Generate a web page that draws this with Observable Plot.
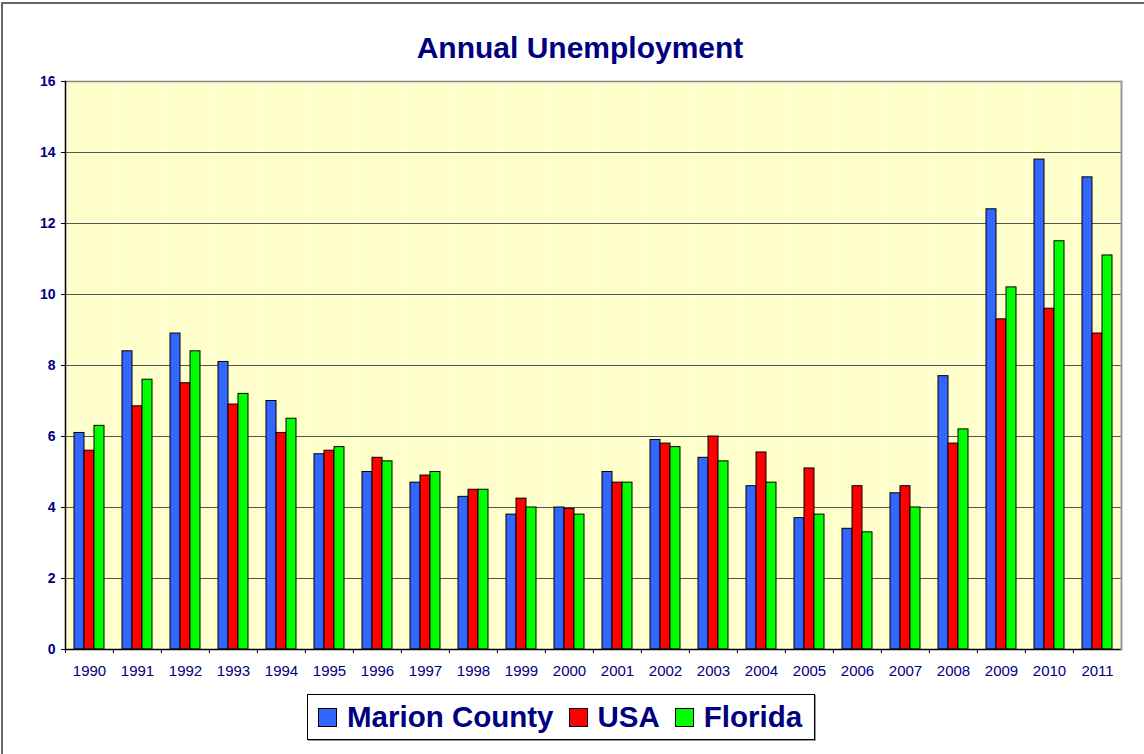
<!DOCTYPE html>
<html>
<head>
<meta charset="utf-8">
<script src="https://cdn.jsdelivr.net/npm/d3@7"></script>
<script src="https://cdn.jsdelivr.net/npm/@observablehq/plot@0.6"></script>
<style>
  html, body { margin: 0; padding: 0; background: #fff; }
  #wrap { position: relative; width: 1144px; height: 754px; overflow: hidden; font-family: "Liberation Sans", Arial, sans-serif; }
  #outer { position: absolute; left: 1px; top: 2px; width: 1200px; height: 800px; border-top: 2px solid #666; border-left: 2px solid #666; }
  #title { position: absolute; left: 0; top: 33px; width: 1160px; text-align: center; font-size: 30px; line-height: 1; font-weight: bold; color: #000080; }
  #chart { position: absolute; left: 0; top: 70px; }
  #legend { position: absolute; left: 307px; top: 694px; height: 44px; border: 1px solid #000; box-shadow: 1px 1px 0 #999; display: flex; align-items: center; padding-left: 10px; padding-right: 12px; box-sizing: content-box; }
  #legend .sw { width: 17px; height: 17px; border: 1px solid #000; margin-right: 10px; }
  #legend .lab { font-size: 29.5px; font-weight: bold; color: #000080; margin-right: 15px; line-height: 1; white-space: nowrap; }
  #legend .lab:last-child { margin-right: 0; }
</style>
</head>
<body>
<div id="wrap">
  <div id="outer"></div>
  <div id="title">Annual Unemployment</div>
  <div id="chart"></div>
  <div id="legend"></div>
</div>
<script>
const years = [1990,1991,1992,1993,1994,1995,1996,1997,1998,1999,2000,2001,2002,2003,2004,2005,2006,2007,2008,2009,2010,2011];
const marion  = [6.1, 8.4, 8.9, 8.1, 7.0, 5.5, 5.0, 4.7, 4.3, 3.8, 4.0, 5.0, 5.9, 5.4, 4.6, 3.7, 3.4, 4.4, 7.7, 12.4, 13.8, 13.3];
const usa     = [5.6, 6.85, 7.5, 6.9, 6.1, 5.6, 5.4, 4.9, 4.5, 4.25, 3.96, 4.7, 5.8, 6.0, 5.55, 5.1, 4.6, 4.6, 5.8, 9.3, 9.6, 8.9];
const florida = [6.3, 7.6, 8.4, 7.2, 6.5, 5.7, 5.3, 5.0, 4.5, 4.0, 3.8, 4.7, 5.7, 5.3, 4.7, 3.8, 3.3, 4.0, 6.2, 10.2, 11.5, 11.1];
const seriesNames = ["Marion County", "USA", "Florida"];
const seriesColors = ["#3366FF", "#FF0000", "#00FF00"];
const yTicks = [0, 2, 4, 6, 8, 10, 12, 14, 16];

const seriesValues = [marion, usa, florida];
const data = years.flatMap((yr, i) => seriesNames.map((s, k) => ({year: yr, series: s, value: seriesValues[k][i]})));

const W = 1144, H = 620, ML = 63, MR = 21, MT = 11, MB = 41;
const halfBand = (W - ML - MR) / years.length / 2;

const chart = Plot.plot({
  width: W, height: H,
  marginLeft: ML, marginRight: MR, marginTop: MT, marginBottom: MB,
  style: {fontFamily: "'Liberation Sans', Arial, sans-serif", background: "transparent", overflow: "visible"},
  fx: {domain: years, padding: 0, axis: null, label: null},
  x: {domain: seriesNames, paddingInner: 0, paddingOuter: 0.75, axis: null},
  y: {domain: [0, 16], axis: null},
  color: {domain: seriesNames, range: seriesColors},
  marks: [
    Plot.frame({fill: "#FFFFCC", stroke: "none"}),
    Plot.gridY(yTicks.filter(t => t > 0 && t < 16), {stroke: "#555", strokeOpacity: 1}),
    Plot.ruleY([16], {stroke: "#888", strokeWidth: 1.5}),
    Plot.barY(data, {fx: "year", x: "series", y: "value", fill: "series", stroke: "#000", strokeWidth: 1, inset: 0}),
    Plot.ruleY([0], {stroke: "#000", strokeWidth: 1.5}),
    Plot.frame({anchor: "left", facetAnchor: "left", stroke: "#000", strokeWidth: 1.5}),
    Plot.frame({anchor: "right", facetAnchor: "right", stroke: "#999", strokeWidth: 2}),
    Plot.axisY({ticks: yTicks, tickSize: 4, tickPadding: 6, fontSize: 14, fontWeight: "bold", fill: "#000080", stroke: "#000", label: null, tickFormat: d => String(d)}),
    Plot.axisFx({anchor: "bottom", tickSize: 0, tickPadding: 16, fontSize: 15, fill: "#000080", label: null, tickFormat: d => String(d)}),
    Plot.axisFx({anchor: "bottom", tickSize: 4, stroke: "#000", label: null, tickFormat: () => "", dx: -halfBand})
  ]
});
document.getElementById("chart").appendChild(chart);

const legend = document.getElementById("legend");
seriesNames.forEach((s, k) => {
  const sw = document.createElement("div");
  sw.className = "sw";
  sw.style.background = seriesColors[k];
  const lab = document.createElement("div");
  lab.className = "lab";
  lab.textContent = s;
  legend.appendChild(sw);
  legend.appendChild(lab);
});
</script>
</body>
</html>
